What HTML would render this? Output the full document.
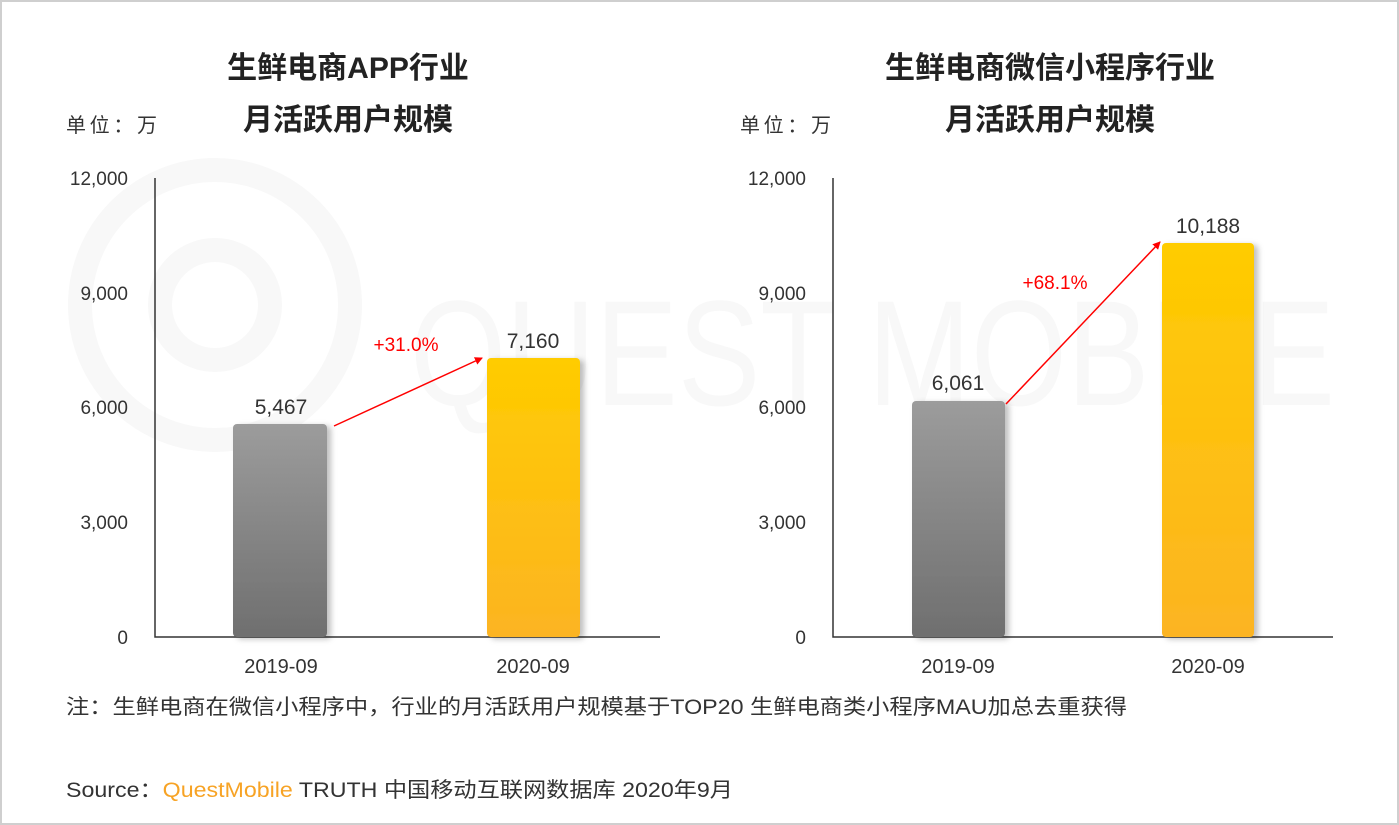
<!DOCTYPE html>
<html><head><meta charset="utf-8"><style>
html,body{margin:0;padding:0;background:#fff}
svg{display:block}
text{font-family:"Liberation Sans","Noto Sans CJK SC",sans-serif}
</style></head><body>
<svg width="1399" height="825" viewBox="0 0 1399 825" xmlns="http://www.w3.org/2000/svg">
<defs>
<linearGradient id="g" x1="0" y1="0" x2="0" y2="1"><stop offset="0" stop-color="#9c9c9c"/><stop offset="1" stop-color="#6f6f6f"/></linearGradient>
<linearGradient id="y" x1="0" y1="0" x2="0" y2="1"><stop offset="0" stop-color="#ffcc00"/><stop offset="1" stop-color="#fcb422"/></linearGradient>
<filter id="sh" x="-20%" y="-10%" width="150%" height="120%"><feDropShadow dx="4" dy="2" stdDeviation="3" flood-color="#000" flood-opacity="0.25"/></filter>
<marker id="ar" markerWidth="8" markerHeight="8" refX="7" refY="4" orient="auto" markerUnits="userSpaceOnUse"><path d="M0,0 L8,4 L0,8 z" fill="#ff0000"/></marker>
</defs>
<rect x="1" y="1" width="1397" height="823" fill="#fff" stroke="#cfcfcf" stroke-width="2"/>
<g fill="none" stroke="#f8f8f8" stroke-width="24">
<circle cx="215" cy="305" r="135"/><circle cx="215" cy="305" r="55"/>
</g>
<text x="410" y="405" font-size="150" fill="#f8f8f8" textLength="925" lengthAdjust="spacingAndGlyphs">QUEST MOBILE</text>

<g font-size="30" font-weight="bold" fill="#222" text-anchor="middle">
<text x="348" y="78">生鲜电商APP行业</text>
<text x="348" y="130">月活跃用户规模</text>
<text x="1050" y="78">生鲜电商微信小程序行业</text>
<text x="1050" y="130">月活跃用户规模</text>
</g>
<g font-size="20" fill="#333">
<text x="66" y="132" textLength="91">单位：万</text>
<text x="740" y="132" textLength="91">单位：万</text>
</g>
<g stroke="#333" stroke-width="1.5" fill="none">
<path d="M155,178 V637 H660"/>
<path d="M833,178 V637 H1333"/>
</g>
<g font-size="19" fill="#333" text-anchor="end">
<text x="128" y="185">12,000</text><text x="128" y="300">9,000</text><text x="128" y="414">6,000</text><text x="128" y="529">3,000</text><text x="128" y="644">0</text>
<text x="806" y="185">12,000</text><text x="806" y="300">9,000</text><text x="806" y="414">6,000</text><text x="806" y="529">3,000</text><text x="806" y="644">0</text>
</g>
<g filter="url(#sh)">
<rect x="233" y="424" width="94" height="213" rx="4" fill="url(#g)"/>
<rect x="487" y="358" width="93" height="279" rx="4" fill="url(#y)"/>
<rect x="912" y="401" width="93" height="236" rx="4" fill="url(#g)"/>
<rect x="1162" y="243" width="92" height="394" rx="4" fill="url(#y)"/>
</g>
<g font-size="21" fill="#333" text-anchor="middle">
<text x="281" y="414">5,467</text><text x="533" y="348">7,160</text>
<text x="958" y="390">6,061</text><text x="1208" y="233">10,188</text>
</g>
<g stroke="#ff0000" stroke-width="1.5">
<line x1="334" y1="426" x2="482" y2="358" marker-end="url(#ar)"/>
<line x1="1006" y1="404" x2="1160" y2="242" marker-end="url(#ar)"/>
</g>
<g font-size="19" fill="#ff0000" text-anchor="middle">
<text x="406" y="351">+31.0%</text><text x="1055" y="289">+68.1%</text>
</g>
<g font-size="20" fill="#333" text-anchor="middle">
<text x="281" y="673">2019-09</text><text x="533" y="673">2020-09</text>
<text x="958" y="673">2019-09</text><text x="1208" y="673">2020-09</text>
</g>
<text x="66" y="714" font-size="21" fill="#333" textLength="1061" lengthAdjust="spacingAndGlyphs">注：生鲜电商在微信小程序中，行业的月活跃用户规模基于TOP20 生鲜电商类小程序MAU加总去重获得</text>
<text x="66" y="797" font-size="21" fill="#333" textLength="667" lengthAdjust="spacingAndGlyphs">Source：<tspan fill="#f7a325">QuestMobile</tspan> TRUTH 中国移动互联网数据库 2020年9月</text>
</svg>
</body></html>
